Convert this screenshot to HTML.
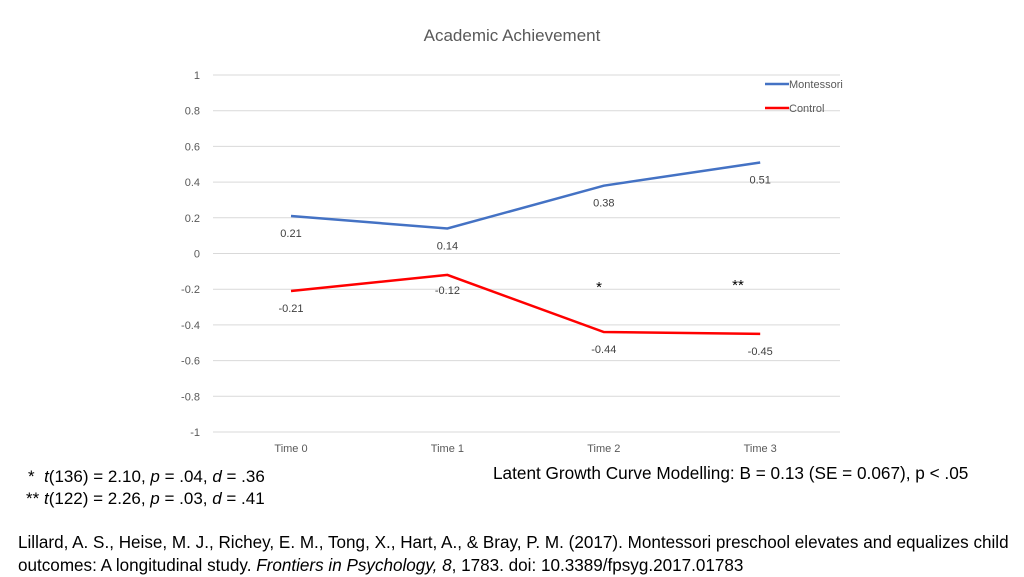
<!DOCTYPE html>
<html><head><meta charset="utf-8"><style>
body{margin:0;width:1024px;height:576px;background:#fff;font-family:"Liberation Sans",sans-serif;overflow:hidden;position:relative}
.t{position:absolute;color:#000;white-space:nowrap}
</style></head><body>
<svg id="chart" width="1024" height="460" style="position:absolute;left:0;top:0" font-family="Liberation Sans, sans-serif">
<text x="512" y="41" text-anchor="middle" font-size="17" fill="#595959">Academic Achievement</text>
<g id="grid"></g><g id="marks"></g>
<g>
<line x1="765" y1="84" x2="789" y2="84" stroke="#4472C4" stroke-width="2.5"/>
<text x="789" y="88" font-size="11" fill="#595959">Montessori</text>
<line x1="765" y1="108" x2="789" y2="108" stroke="#FF0000" stroke-width="2.5"/>
<text x="789" y="112" font-size="11" fill="#595959">Control</text>
</g>
<text x="599" y="292" font-size="15" text-anchor="middle">*</text>
<text x="738" y="290" font-size="15" text-anchor="middle">**</text>
</svg>
<div class="t" style="left:493px;top:463px;font-size:17.2px">Latent Growth Curve Modelling: B = 0.13 (SE = 0.067), p &lt; .05</div>
<div class="t" style="left:28px;top:467px;font-size:17px">* &nbsp;<i>t</i>(136) = 2.10, <i>p</i> = .04, <i>d</i> = .36</div>
<div class="t" style="left:26px;top:489px;font-size:17px">** <i>t</i>(122) = 2.26, <i>p</i> = .03, <i>d</i> = .41</div>
<div class="t" style="left:18px;top:531px;font-size:17.1px;line-height:23px">Lillard, A. S., Heise, M. J., Richey, E. M., Tong, X., Hart, A., &amp; Bray, P. M. (2017). Montessori preschool elevates and equalizes child<br>outcomes: A longitudinal study. <i>Frontiers in Psychology, 8</i>, 1783. doi: 10.3389/fpsyg.2017.01783</div>
<script>
const categories=["Time 0","Time 1","Time 2","Time 3"];
const montessori=[0.21,0.14,0.38,0.51];
const control=[-0.21,-0.12,-0.44,-0.45];
const yTicks=[1,0.8,0.6,0.4,0.2,0,-0.2,-0.4,-0.6,-0.8,-1];
const NS="http://www.w3.org/2000/svg";
const y=v=>253.5-v*178.5;
const x=i=>291+i*156.4;
function mk(t,a,p){const e=document.createElementNS(NS,t);for(const k in a)e.setAttribute(k,a[k]);p.appendChild(e);return e;}
const g=document.getElementById('grid'),m=document.getElementById('marks');
yTicks.forEach(v=>{
 const l=mk('line',{x1:213,x2:840,y1:y(v),y2:y(v),stroke:'#D9D9D9','stroke-width':1},g);
 
 
 const t=mk('text',{x:200,y:y(v)+4,'text-anchor':'end','font-size':11,fill:'#595959'},g);
 t.textContent=String(v);
 
 
});
categories.forEach((c,i)=>{
 const t=mk('text',{x:x(i),y:452,'text-anchor':'middle','font-size':11,fill:'#595959'},g);
 t.textContent=c;
 
 
});
function series(d,col,name){
 const p=mk('polyline',{points:d.map((v,i)=>x(i)+','+y(v)).join(' '),fill:'none',stroke:col,'stroke-width':2.5},m);
 
 
 d.forEach((v,i)=>{
  const t=mk('text',{x:x(i),y:y(v)+(v<0&&i==1?19:21),'text-anchor':'middle','font-size':11,fill:'#404040'},m);
  t.textContent=v.toFixed(2).replace(/^(-?)0\./,'$10.');
  
  
 });
}
series(montessori,'#4472C4','montessori');
series(control,'#FF0000','control');
</script>
</body></html>
